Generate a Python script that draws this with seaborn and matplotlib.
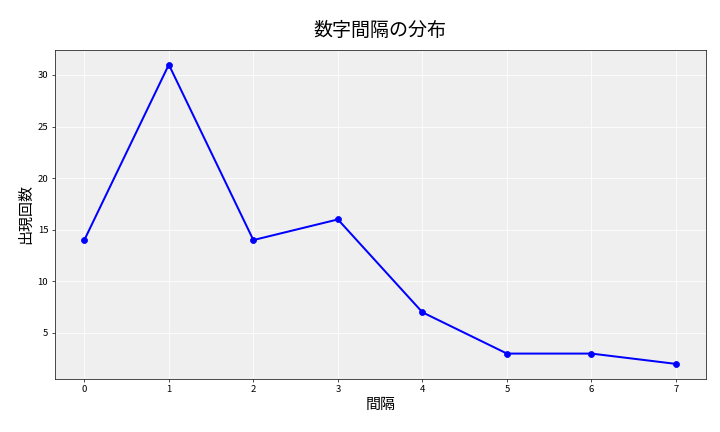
import matplotlib
matplotlib.use('Agg')
import matplotlib.pyplot as plt
import seaborn as sns
import pandas as pd

# データ
intervals = [0, 1, 2, 3, 4, 5, 6, 7]
counts = [14, 31, 14, 16, 7, 3, 3, 2]

sns.set_style('darkgrid', {'axes.facecolor': '#efefef', 'grid.color': 'white',
                           'axes.edgecolor': '#222222', 'axes.linewidth': 1.0,
                           'text.color': 'black', 'axes.labelcolor': 'black',
                           'xtick.color': 'black', 'ytick.color': 'black'})
plt.rcParams['font.family'] = ['Noto Sans CJK JP', 'DejaVu Sans']

df = pd.DataFrame({'間隔': intervals, '出現回数': counts})

fig, ax = plt.subplots(figsize=(10, 6), dpi=72)
sns.lineplot(data=df, x='間隔', y='出現回数', ax=ax, color='blue',
             marker='o', markersize=6, markeredgecolor='blue', linewidth=2)

ax.set_title('数字間隔の分布', fontsize=19, fontweight='normal', pad=14)
ax.set_xlabel('間隔', fontsize=15)
ax.set_ylabel('出現回数', fontsize=15)
ax.tick_params(labelsize=9.5, length=3, color='#222222', left=True, bottom=True)
ax.set_xticks(intervals)

fig.subplots_adjust(left=0.076, right=0.98, top=0.885, bottom=0.123)
fig.savefig('out.png', dpi=72)
